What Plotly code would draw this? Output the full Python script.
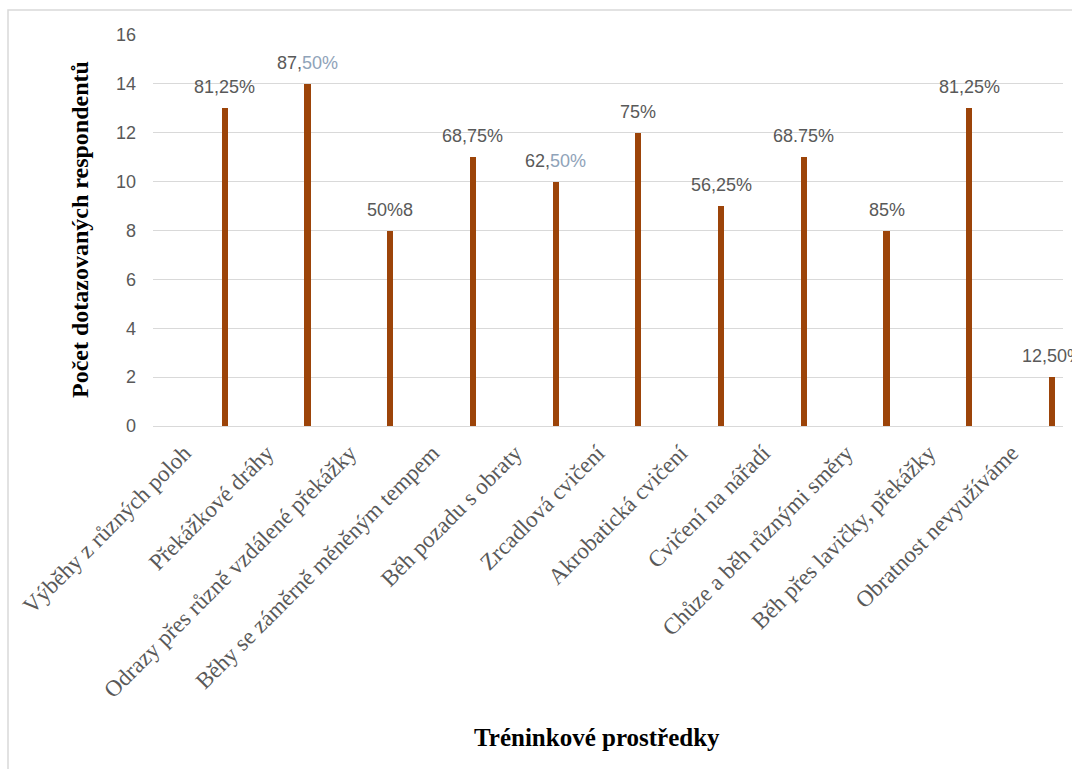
import plotly.graph_objects as go

# Training methods and number of respondents using each
categories = [
    "Výběhy z různých poloh",
    "Překážkové dráhy",
    "Odrazy přes různě vzdálené překážky",
    "Běhy se záměrně měněným tempem",
    "Běh pozadu s obraty",
    "Zrcadlová cvičení",
    "Akrobatická cvičení",
    "Cvičení na nářadí",
    "Chůze a běh různými směry",
    "Běh přes lavičky, překážky",
    "Obratnost nevyužíváme",
]
respondents = [13, 14, 8, 11, 10, 12, 9, 11, 8, 13, 2]
# Percent labels as written above the bars (main part, trailing part in lighter tone)
label_main = ["81,25%", "87,", "50%8", "68,75%", "62,", "75%", "56,25%", "68.75%", "85%", "81,25%", "12,50%"]
label_tail = ["", "50%", "", "", "50%", "", "", "", "", "", ""]

y_ticks = [0, 2, 4, 6, 8, 10, 12, 14, 16]

W, H = 1072, 769
ML, MR, MT, MB = 153, 9, 35, 343
plot_w = W - ML - MR
plot_h = H - MT - MB
slot = plot_w / len(categories)

BAR_COLOR = "#9C4409"
GRID = "#D9D9D9"
TXT = "#595959"
TAIL = "#8FA3B9"

bar_w = 0.075
bar_center = 0.367  # bar sits right of the category centre

fig = go.Figure()
fig.add_trace(go.Bar(
    x=categories,
    y=respondents,
    width=bar_w,
    offset=bar_center - bar_w / 2,
    marker=dict(color=BAR_COLOR, line=dict(width=0)),
    hoverinfo="x+y",
))

annotations = []
for cat, val, main, tail in zip(categories, respondents, label_main, label_tail):
    text = main + (f"<span style='color:{TAIL}'>{tail}</span>" if tail else "")
    annotations.append(dict(
        x=cat, y=val, xref="x", yref="y",
        text=text, showarrow=False,
        xshift=bar_center * slot, yshift=21,
        xanchor="center", yanchor="middle",
        font=dict(family="Liberation Sans", size=18, color=TXT),
    ))

# axis titles
annotations.append(dict(
    x=(597 - ML) / plot_w, y=-(737 - MT - plot_h) / plot_h,
    xref="paper", yref="paper", showarrow=False,
    text="<b>Tréninkové prostředky</b>",
    xanchor="center", yanchor="middle",
    font=dict(family="Liberation Serif", size=25, color="#000000"),
))
annotations.append(dict(
    x=(80 - ML) / plot_w, y=(426 - 230) / plot_h,
    xref="paper", yref="paper", showarrow=False,
    text="<b>Počet dotazovaných respondentů</b>", textangle=-90,
    xanchor="center", yanchor="middle",
    font=dict(family="Liberation Serif", size=24, color="#000000"),
))

# light frame around the chart area
shapes = [dict(
    type="rect", xref="paper", yref="paper",
    x0=(8 - ML) / plot_w, x1=1.2,
    y0=-2.0, y1=1 + (MT - 10) / plot_h,
    line=dict(color=GRID, width=1.5), fillcolor="rgba(0,0,0,0)", layer="below",
)]

fig.update_layout(
    width=W, height=H,
    margin=dict(l=ML, r=MR, t=MT, b=MB, autoexpand=False),
    paper_bgcolor="white", plot_bgcolor="white",
    showlegend=False,
    annotations=annotations,
    shapes=shapes,
    bargap=0,
)
fig.update_xaxes(
    type="category",
    tickangle=-45,
    tickfont=dict(family="Liberation Serif", size=23, color=TXT),
    showgrid=False, showline=False, ticks="",
    range=[-0.5, len(categories) - 0.5],
    ticklabelshift=-10,
    ticklabelstandoff=8,
)
fig.update_yaxes(
    range=[0, 16],
    tickvals=y_ticks,
    tickfont=dict(family="Liberation Sans", size=18, color=TXT),
    showgrid=True, gridcolor=GRID, gridwidth=1,
    zeroline=True, zerolinecolor=GRID, zerolinewidth=1,
    showline=False, ticks="",
    ticklabelstandoff=16,
)

fig.write_html("out.html")
